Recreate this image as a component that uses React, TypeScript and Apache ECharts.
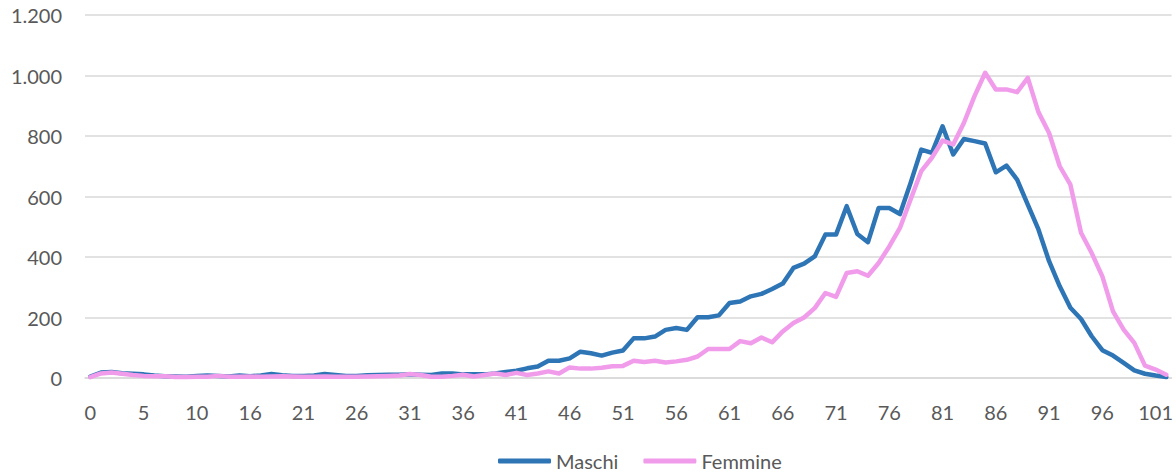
import React, { useEffect, useRef } from "react";
import * as echarts from "echarts";

// Age categories (one age absent between 10 and 16 in the source)
const ages: string[] = [
  "0", "1", "2", "3", "4", "5", "6", "7", "8", "9", "10",
  "12", "13", "14", "15", "16", "17", "18", "19", "20", "21",
  "22", "23", "24", "25", "26", "27", "28", "29", "30", "31",
  "32", "33", "34", "35", "36", "37", "38", "39", "40", "41",
  "42", "43", "44", "45", "46", "47", "48", "49", "50", "51",
  "52", "53", "54", "55", "56", "57", "58", "59", "60", "61",
  "62", "63", "64", "65", "66", "67", "68", "69", "70", "71",
  "72", "73", "74", "75", "76", "77", "78", "79", "80", "81",
  "82", "83", "84", "85", "86", "87", "88", "89", "90", "91",
  "92", "93", "94", "95", "96", "97", "98", "99", "100", "101",
  "102",
];

const maschi: number[] = [
  5, 18, 20, 16, 14, 12, 8, 6, 5, 4, 7, 8, 7, 5, 8, 6, 8, 13, 9, 7, 7, 8, 13, 10, 7, 7, 9, 10, 11, 11, 12, 11,
  10, 15, 15, 12, 12, 12, 15, 20, 24, 32, 38, 57, 57, 65, 87, 82, 74, 84, 91, 131, 131, 137, 159, 165, 159, 201, 201, 207, 248, 253, 270, 278,
  294, 312, 364, 378, 402, 474, 474, 568, 476, 449, 562, 562, 542, 645, 755, 744, 832,
  739, 790, 783, 775, 680, 702, 656, 573, 491, 386, 303, 232, 195, 138, 92, 74, 50, 25, 14, 8, 3,
];

const femmine: number[] = [
  3, 15, 18, 14, 10, 7, 6, 6, 3, 3, 4, 4, 7, 4, 4, 5, 4, 5, 6, 5, 4, 4, 5, 4, 4, 4, 5, 6, 7, 8, 13, 10,
  4, 4, 7, 11, 5, 10, 15, 10, 17, 10, 15, 22, 15, 35, 31, 31, 34, 39, 40, 57, 53, 57, 51, 55, 60, 71, 96, 96, 96, 122, 115, 134,
  118, 154, 182, 200, 231, 281, 268, 347, 353, 338, 380, 435, 496, 590, 684, 728, 785,
  772, 843, 932, 1009, 954, 954, 945, 992, 879, 810, 700, 639, 480, 413, 336, 220, 160, 116, 41, 28, 11,
];

const seriesNames: string[] = ["Maschi", "Femmine"];

const FONT = "Lato, 'Open Sans', sans-serif";

function fmt(v: number): string {
  return String(v).replace(/\B(?=(\d{3})+(?!\d))/g, ".");
}

export default function App() {
  const ref = useRef<HTMLDivElement>(null);
  useEffect(() => {
    if (!ref.current) return;
    const chart = echarts.init(ref.current, undefined, { renderer: "svg" });
    chart.setOption({
      animation: false,
      backgroundColor: "#ffffff",
      grid: { left: 85, right: 1, top: 15, bottom: 94, containLabel: false },
      legend: {
        data: seriesNames,
        left: 493,
        top: 446,
        icon: "roundRect",
        itemWidth: 53,
        itemHeight: 5,
        itemGap: 25,
        textStyle: { fontSize: 20, color: "#595959", fontFamily: FONT },
      },
      xAxis: {
        type: "category",
        data: ages,
        boundaryGap: true,
        axisLine: { show: true, lineStyle: { color: "#d9d9d9", width: 1.5 } },
        axisTick: { show: false },
        axisLabel: {
          interval: 4,
          margin: 24,
          fontSize: 20,
          color: "#595959",
          fontFamily: FONT,
        },
      },
      yAxis: {
        type: "value",
        min: 0,
        max: 1200,
        interval: 200,
        axisLine: { show: false },
        axisTick: { show: false },
        splitLine: { lineStyle: { color: "#d9d9d9", width: 1.5 } },
        axisLabel: {
          margin: 23,
          fontSize: 20,
          color: "#595959",
          fontFamily: FONT,
          formatter: (v: number) => fmt(v),
        },
      },
      series: [
        {
          name: seriesNames[0],
          type: "line",
          data: maschi,
          symbol: "none",
          showSymbol: false,
          color: "#2E75B6",
          lineStyle: { width: 4.5, color: "#2E75B6", cap: "round", join: "round" },
        },
        {
          name: seriesNames[1],
          type: "line",
          data: femmine,
          symbol: "none",
          showSymbol: false,
          color: "#F19CEB",
          lineStyle: { width: 4.5, color: "#F19CEB", cap: "round", join: "round" },
        },
      ],
    });
    return () => chart.dispose();
  }, []);
  return (
    <div
      ref={ref}
      style={{ position: "fixed", left: 0, top: 0, width: 1176, height: 472 }}
    />
  );
}
